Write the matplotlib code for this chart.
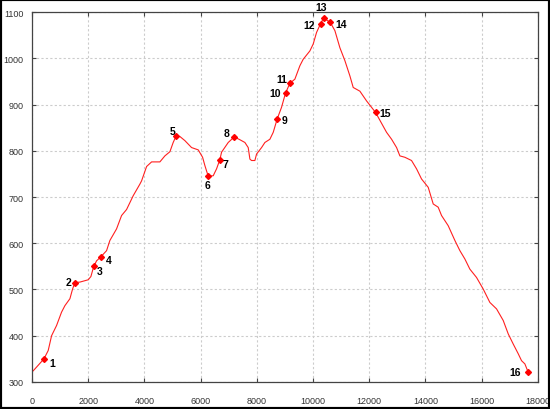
import matplotlib
matplotlib.use("Agg")
import matplotlib.pyplot as plt
from matplotlib.patches import Rectangle

# perfil: distancia (m) y altitud (m)
dist = [0, 46, 430, 580, 700, 877, 1055, 1174, 1352, 1447, 1530, 1707, 2003, 2099,
        2158, 2205, 2300, 2443, 2656, 2774, 3011, 3190, 3368, 3605, 3842, 3902, 4080,
        4258, 4553, 4731, 4909, 5026, 5122, 5264, 5442, 5680, 5917, 6072, 6154, 6272,
        6450, 6569, 6687, 6747, 6984, 7197, 7398, 7577, 7695, 7755, 7814, 7932, 7992,
        8170, 8288, 8466, 8585, 8726, 8880, 9023, 9177, 9355, 9533, 9651, 9888, 10007,
        10126, 10268, 10375, 10612, 10778, 10956, 11134, 11312, 11430, 11667, 11904,
        12225, 12616, 12795, 12973, 13090, 13268, 13505, 13683, 13861, 14098, 14276,
        14453, 14572, 14809, 15047, 15225, 15402, 15580, 15817, 16054, 16291, 16529,
        16766, 16944, 17122, 17300, 17418, 17537, 17655]
alt = [322, 324, 350, 368, 400, 422, 451, 465, 480, 501, 515, 516, 521, 528,
       541, 550, 562, 570, 584, 606, 631, 660, 673, 703, 728, 735, 766,
       776, 776, 789, 798, 818, 831, 831, 822, 807, 802, 786, 768, 745,
       746, 761, 781, 797, 818, 830, 824, 818, 807, 782, 779, 779, 793,
       807, 818, 825, 840, 869, 894, 925, 946, 955, 984, 998, 1016, 1031,
       1056, 1075, 1087, 1078, 1060, 1023, 995, 962, 937, 929, 908,
       883, 840, 825, 807, 789, 786, 779, 761, 739, 721, 685,
       678, 660, 638, 606, 584, 566, 544, 526, 501, 472, 458,
       433, 404, 382, 361, 346, 339, 321]

# puntos de control
pts_x = [430, 1530, 2205, 2443, 5122, 6272, 6687, 7197, 8726, 9023, 9177,
         10268, 10375, 10612, 12225, 17655]
pts_y = [350, 515, 550, 570, 831, 745, 781, 830, 869, 925, 946,
         1075, 1087, 1078, 883, 321]
pts_lab = [str(i) for i in range(1, 17)]
# desplazamiento de las etiquetas (pixeles)
offs = [(8, -4), (-6, 1), (6, -5), (8, -3), (-3, 5), (-1, -9), (6, -4), (-8, 4),
        (7, -1), (-10, 0), (-8, 4), (-11, -1), (-2, 11), (11, -2), (10, -1), (-13, 0)]

fig = plt.figure(figsize=(5.5, 4.1), dpi=100)
ax = fig.add_axes([0.058, 0.066, 0.92, 0.902])

ax.plot(dist, alt, color='#ff2020', lw=0.8)
ax.plot(pts_x, pts_y, 'D', color='red', ms=3, mec='red')
for x, y, t, o in zip(pts_x, pts_y, pts_lab, offs):
    ax.annotate(t, (x, y), xytext=o, textcoords='offset pixels',
                ha='center', va='center', fontsize=7.5, fontweight='bold',
                family='Liberation Sans')

ax.set_xlim(0, 18000)
ax.set_ylim(300, 1100)
ax.set_xticks(range(0, 18001, 2000))
ax.set_yticks(range(300, 1101, 100))
ax.grid(True, color='#cccccc', linestyle=(0, (2, 2)), lw=0.8)
ax.tick_params(direction='in', length=3, top=True, right=True, labelsize=6.5,
               colors='#444444', labelcolor='#333333')
ax.tick_params(axis='x', pad=10)
ax.tick_params(axis='y', pad=6)
for lab in ax.get_xticklabels() + ax.get_yticklabels():
    lab.set_family('Liberation Sans')
for s in ax.spines.values():
    s.set_color('#444444')
    s.set_linewidth(0.9)

fig.patches.append(Rectangle((0, 0), 1, 1, transform=fig.transFigure,
                             fill=False, edgecolor='black', lw=3))

fig.savefig('out.png', dpi=100)
